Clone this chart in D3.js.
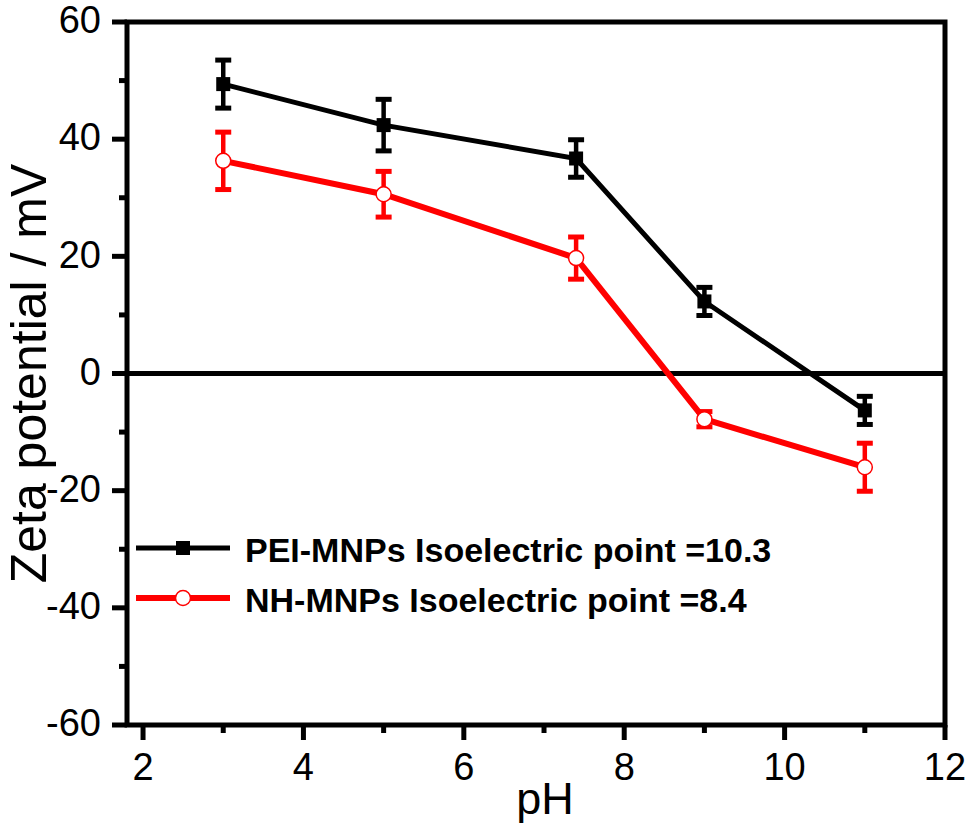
<!DOCTYPE html>
<html>
<head>
<meta charset="utf-8">
<script src="https://cdn.jsdelivr.net/npm/d3@7"></script>
<style>
  body { margin: 0; background: #fff; }
  text { font-family: "Liberation Sans", Arial, sans-serif; }
</style>
</head>
<body>
<div id="chart"></div>
<script>
// data
const phValues = [3, 5, 7.4, 9, 11];
const peiZeta = [49.4, 42.4, 36.7, 12.3, -6.3];
const peiErr = [4.1, 4.4, 3.2, 2.4, 2.4];
const nhZeta = [36.3, 30.6, 19.7, -7.8, -16.0];
const nhErr = [4.9, 3.9, 3.6, 1.3, 4.1];
const xMajor = [2, 4, 6, 8, 10, 12];
const xMinor = [3, 5, 7, 9, 11];
const yMajor = [-60, -40, -20, 0, 20, 40, 60];
const yMinor = [-50, -30, -10, 10, 30, 50];
const seriesNames = ["PEI-MNPs Isoelectric point =10.3", "NH-MNPs Isoelectric point =8.4"];

const W = 971, H = 824;
const plot = {left: 127, right: 945, top: 22, bottom: 725};

const svg = d3.select("#chart").append("svg")
    .attr("width", W)
    .attr("height", H);

const x = d3.scaleLinear().domain([1.8, 12]).range([plot.left, plot.right]);
const y = d3.scaleLinear().domain([-60, 60]).range([plot.bottom, plot.top]);

// zero line
svg.append("line")
    .attr("x1", plot.left).attr("x2", plot.right)
    .attr("y1", y(0)).attr("y2", y(0))
    .attr("stroke", "#000").attr("stroke-width", 5);

// series
const series = [
    {name: seriesNames[0], vals: peiZeta, err: peiErr, color: "#000", symbol: "square", lw: 5},
    {name: seriesNames[1], vals: nhZeta, err: nhErr, color: "#ff0000", symbol: "circle", lw: 6}
];

const line = d3.line().x(d => x(d.x)).y(d => y(d.y));

function drawSymbol(g, s, cx, cy) {
    if (s.symbol === "square") {
        g.append("rect")
            .attr("x", cx - 7).attr("y", cy - 7)
            .attr("width", 14).attr("height", 14)
            .attr("fill", s.color);
    } else {
        g.append("circle")
            .attr("cx", cx).attr("cy", cy).attr("r", 7.5)
            .attr("fill", "#fff")
            .attr("stroke", s.color).attr("stroke-width", 1.5);
    }
}

series.forEach(s => {
    const pts = phValues.map((p, i) => ({x: p, y: s.vals[i], e: s.err[i]}));
    const g = svg.append("g");

    // error bars
    pts.forEach(d => {
        g.append("line")
            .attr("x1", x(d.x)).attr("x2", x(d.x))
            .attr("y1", y(d.y + d.e)).attr("y2", y(d.y - d.e))
            .attr("stroke", s.color).attr("stroke-width", 4.5);
        [d.y + d.e, d.y - d.e].forEach(v => {
            g.append("line")
                .attr("x1", x(d.x) - 8).attr("x2", x(d.x) + 8)
                .attr("y1", y(v)).attr("y2", y(v))
                .attr("stroke", s.color).attr("stroke-width", 5);
        });
    });

    g.append("path")
        .datum(pts)
        .attr("d", line)
        .attr("fill", "none")
        .attr("stroke", s.color)
        .attr("stroke-width", s.lw);

    pts.forEach(d => drawSymbol(g, s, x(d.x), y(d.y)));
});

// axes
const axes = svg.append("g").attr("stroke", "#000").attr("stroke-width", 5);
axes.append("rect")
    .attr("x", plot.left).attr("y", plot.top)
    .attr("width", plot.right - plot.left).attr("height", plot.bottom - plot.top)
    .attr("fill", "none");

// x ticks
xMajor.forEach(v => {
    axes.append("line").attr("x1", x(v)).attr("x2", x(v))
        .attr("y1", plot.bottom).attr("y2", plot.bottom + 15);
});
xMinor.forEach(v => {
    axes.append("line").attr("x1", x(v)).attr("x2", x(v))
        .attr("y1", plot.bottom).attr("y2", plot.bottom + 8);
});
// y ticks
yMajor.forEach(v => {
    axes.append("line").attr("y1", y(v)).attr("y2", y(v))
        .attr("x1", plot.left).attr("x2", plot.left - 15);
});
yMinor.forEach(v => {
    axes.append("line").attr("y1", y(v)).attr("y2", y(v))
        .attr("x1", plot.left).attr("x2", plot.left - 8);
});

// tick labels
svg.append("g").selectAll("text")
    .data(xMajor)
    .join("text")
    .attr("x", d => x(d))
    .attr("y", 780)
    .attr("text-anchor", "middle")
    .style("font-size", "38px")
    .text(d => d);

svg.append("g").selectAll("text")
    .data(yMajor)
    .join("text")
    .attr("x", 101)
    .attr("y", d => y(d) - 2)
    .attr("dy", "0.35em")
    .attr("text-anchor", "end")
    .style("font-size", "38px")
    .text(d => d);

// axis titles
svg.append("text")
    .attr("x", 545)
    .attr("y", 814)
    .attr("text-anchor", "middle")
    .style("font-size", "45px")
    .text("pH");

svg.append("text")
    .attr("transform", "translate(46," + ((plot.top + plot.bottom) / 2) + ") rotate(-90)")
    .attr("text-anchor", "middle")
    .style("font-size", "50px")
    .text("Zeta potential / mV");

// legend
const legend = svg.append("g");
series.forEach((s, i) => {
    const ly = 548 + i * 50;
    legend.append("line")
        .attr("x1", 136).attr("x2", 230)
        .attr("y1", ly).attr("y2", ly)
        .attr("stroke", s.color).attr("stroke-width", s.lw);
    drawSymbol(legend, s, 183, ly);
    legend.append("text")
        .attr("x", 245)
        .attr("y", ly + 14)
        .style("font-size", "34px")
        .style("font-weight", "bold")
        .text(s.name);
});
</script>
</body>
</html>
